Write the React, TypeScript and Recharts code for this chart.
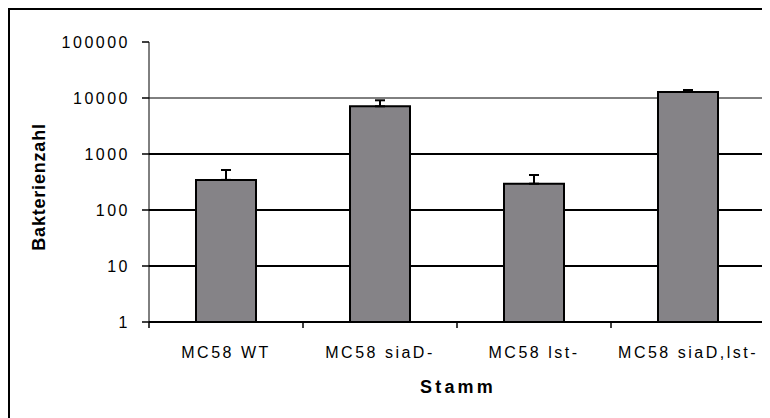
import React from 'react';
import { BarChart, Bar, XAxis, YAxis, CartesianGrid, ErrorBar } from 'recharts';

const categories = ['MC58 WT', 'MC58 siaD-', 'MC58 lst-', 'MC58 siaD,lst-'];
const values = [345, 7110, 295, 12800];
const upperErrors = [173, 1990, 127, 1100];
const yTicks = [1, 10, 100, 1000, 10000, 100000];
const gridValues = [10, 100, 1000, 10000];

const data = categories.map((name, i) => ({
  name,
  value: values[i],
  err: [0, upperErrors[i]],
}));

const FONT = '"Liberation Sans", Arial, sans-serif';

const XTick = (props: any) => {
  const { x, y, payload, index, visibleTicksCount } = props;
  const off = payload.offset || 0;
  const last = index === visibleTicksCount - 1;
  return (
    <g>
      <line x1={x - off} y1={y} x2={x - off} y2={y + 6} stroke="#000" strokeWidth={1.5} />
      {last && <line x1={x + off} y1={y} x2={x + off} y2={y + 6} stroke="#000" strokeWidth={1.5} />}
      <text x={x} y={y + 36} textAnchor="middle" fontFamily={FONT} fontSize={16} letterSpacing={2.5} fill="#000">
        {payload.value}
      </text>
    </g>
  );
};

const YTick = (props: any) => {
  const { x, y, payload } = props;
  return (
    <text x={x} y={y} dy={6} textAnchor="end" fontFamily={FONT} fontSize={16} letterSpacing={2.5} fill="#000">
      {payload.value}
    </text>
  );
};

const GridLine = (p: any) => (
  <line
    key={p.key}
    x1={p.x1}
    y1={p.y1}
    x2={p.x2}
    y2={p.y2}
    stroke="#000"
    strokeWidth={p.index === gridValues.length - 1 ? 1 : 2}
  />
);

export default function App() {
  return (
    <div
      style={{
        position: 'relative',
        width: 762,
        height: 410,
        borderTop: '2px solid #000',
        borderLeft: '2px solid #000',
        boxSizing: 'border-box',
        background: '#fff',
      }}
    >
      <div style={{ position: 'absolute', left: -2, top: -2 }}>
        <BarChart
          width={762}
          height={410}
          data={data}
          margin={{ top: 34, right: 5, bottom: 0, left: 0 }}
        >
          <CartesianGrid
            vertical={false}
            horizontalValues={gridValues}
            horizontal={GridLine as any}
          />
          <XAxis
            dataKey="name"
            height={96}
            axisLine={{ stroke: '#000', strokeWidth: 2 }}
            tickLine={false}
            tickSize={0}
            tickMargin={0}
            tick={<XTick />}
            interval={0}
            label={{
              content: (p: any) => {
                const vb = p.viewBox;
                return (
                  <text
                    x={vb.x + vb.width / 2 + 1}
                    y={vb.y + 71}
                    textAnchor="middle"
                    fontFamily={FONT}
                    fontWeight="bold"
                    fontSize={18}
                    letterSpacing={3.2}
                    fill="#000"
                  >
                    Stamm
                  </text>
                );
              },
            }}
          />
          <YAxis
            scale="log"
            domain={[1, 100000]}
            ticks={yTicks}
            allowDataOverflow
            width={141}
            axisLine={{ stroke: '#000', strokeWidth: 1 }}
            tickLine={{ stroke: '#000', strokeWidth: 1.5 }}
            tickSize={7}
            tickMargin={12}
            tick={<YTick />}
            interval={0}
            label={{
              content: (p: any) => {
                const vb = p.viewBox;
                const cx = 31;
                const cy = vb.y + vb.height / 2 + 5;
                return (
                  <text
                    x={cx}
                    y={cy}
                    transform={`rotate(-90 ${cx} ${cy})`}
                    textAnchor="middle"
                    dominantBaseline="central"
                    fontFamily={FONT}
                    fontWeight="bold"
                    fontSize={18}
                    letterSpacing={0.8}
                    fill="#000"
                  >
                    Bakterienzahl
                  </text>
                );
              },
            }}
          />
          <Bar dataKey="value" fill="#858387" stroke="#000" strokeWidth={2} barSize={60} isAnimationActive={false}>
            <ErrorBar dataKey="err" direction="y" width={5} stroke="#000" strokeWidth={2} isAnimationActive={false} />
          </Bar>
        </BarChart>
      </div>
    </div>
  );
}
